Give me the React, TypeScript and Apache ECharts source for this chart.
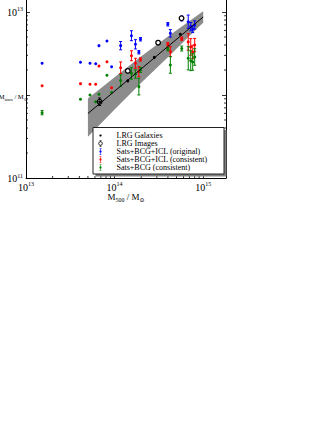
import React, { useEffect, useRef } from "react";
import * as echarts from "echarts";

const FONT = "'Liberation Serif', 'DejaVu Serif', serif";

// ---------- data ----------
const clusterM500 = [1.52e13, 4.12e13, 5.28e13, 6.12e13, 6.66e13, 8.2e13, 9.25e13, 1.17e14, 1.55e14, 1.72e14, 1.88e14, 1.96e14, 3.99e14, 4.26e14, 5.73e14, 6.78e14, 7.24e14, 7.62e14, 8.02e14];
const starsOriginal = [2.41e12, 2.48e12, 2.41e12, 2.38e12, 3.93e12, 4.48e12, 2.19e12, 3.93e12, 5.18e12, 4.08e12, 3.27e12, 4.69e12, 7.11e12, 5.53e12, 8.35e12, 7.64e12, 6.66e12, 6.19e12, 6.97e12];
const errOriginal = [0, 0, 0, 0, 0, 0, 0, 0.05, 0.06, 0.056, 0.02, 0.02, 0.02, 0.045, 0.03, 0.08, 0.05, 0.04, 0.05];
const starsICL = [1.29e12, 1.37e12, 1.35e12, 1.35e12, 2.23e12, 2.52e12, 1.22e12, 2.13e12, 2.97e12, 2.41e12, 1.91e12, 2.68e12, 4.08e12, 3.33e12, 4.77e12, 4.36e12, 3.79e12, 3.3e12, 4.0e12];
const errICL = [0, 0, 0, 0, 0, 0, 0, 0.07, 0.06, 0.06, 0.06, 0.02, 0.02, 0.06, 0.02, 0.1, 0.1, 0.08, 0.08];
const starsBCG = [6.12e11, 8.87e11, 1.0e12, 8.3e11, 1.02e12, 1.73e12, 1.07e12, 1.49e12, 1.82e12, 1.79e12, 1.26e12, 2.0e12, 3.56e12, 2.3e12, 3.63e12, 2.77e12, 2.59e12, 2.5e12, 2.87e12];
const errBCG = [0.025, 0, 0, 0, 0, 0, 0, 0.07, 0.07, 0.05, 0.1, 0.03, 0.02, 0.1, 0.03, 0.14, 0.12, 0.1, 0.1];

const lrgGalaxyM500 = [6.78e13, 1.41e14, 2.81e14, 5.52e14];
const lrgGalaxyStars = [8.3e11, 1.48e12, 2.84e12, 5.38e12];
const lrgImageM500 = [6.78e13, 1.41e14, 3.1e14, 5.7e14];
const lrgImageStars = [8.3e11, 1.95e12, 4.27e12, 8.4e12];
const lrgImageErr = [0.045, 0, 0, 0];

const fitM500 = [5e13, 1e15];
const fitStars = [5.98e11, 8.71e12];
const bandM500 = [5e13, 1e14, 2e14, 4e14, 7e14, 1e15];
const bandUpper = [9.06e11, 1.64e12, 2.92e12, 5.06e12, 7.78e12, 1.02e13];
const bandLower = [3.14e11, 6.7e11, 1.4e12, 2.84e12, 5.14e12, 7.41e12];

const xTickExponents = [13, 14, 15];
const yTickExponents = [11, 13];
const xMinorTicks = [2e13, 3e13, 4e13, 5e13, 6e13, 7e13, 8e13, 9e13, 2e14, 3e14, 4e14, 5e14, 6e14, 7e14, 8e14, 9e14];
const yMinorTicks = [2e11, 3e11, 4e11, 5e11, 6e11, 7e11, 8e11, 9e11, 2e12, 3e12, 4e12, 5e12, 6e12, 7e12, 8e12, 9e12];

const legendNames = ["LRG Galaxies", "LRG Images", "Sats+BCG+ICL (original)", "Sats+BCG+ICL (consistent)", "Sats+BCG (consistent)"];
const yTitle = "{m|M}{s|stars}{m| / M}{s|⊙}";
const xTitle = "{m|M}{s|500}{m| / M}{s|⊙}";

const X_MIN = 1e13, X_MAX = 1.81e15, Y_MIN = 1e11, Y_MAX = 2e13;

// ---------- helpers ----------
const supRich = {
  b: { fontSize: 10, fontFamily: FONT, color: "#000", verticalAlign: "bottom", lineHeight: 11 },
  s: { fontSize: 6, fontFamily: FONT, color: "#000", verticalAlign: "top", lineHeight: 5 },
};
const makeFormatter = (allowed: number[]) => (v: number) => {
  const l = Math.log10(v);
  const e = Math.round(l);
  if (Math.abs(l - e) > 1e-6 || allowed.indexOf(e) < 0) return "";
  return `{b|10}{s|${e}}`;
};

const errRender = (color: string, r: number, open: boolean) => (params: any, api: any) => {
  const x = api.value(0), y = api.value(1), e = api.value(2);
  const p = api.coord([x, y]);
  const children: any[] = [];
  if (e > 0) {
    const lo = api.coord([x, y / Math.pow(10, e)]);
    const hi = api.coord([x, y * Math.pow(10, e)]);
    const st = { stroke: color, lineWidth: 1 };
    children.push({ type: "line", shape: { x1: p[0], y1: lo[1], x2: p[0], y2: hi[1] }, style: st });
    children.push({ type: "line", shape: { x1: p[0] - 1.5, y1: lo[1], x2: p[0] + 1.5, y2: lo[1] }, style: st });
    children.push({ type: "line", shape: { x1: p[0] - 1.5, y1: hi[1], x2: p[0] + 1.5, y2: hi[1] }, style: st });
  }
  children.push({
    type: "circle",
    shape: { cx: p[0], cy: p[1], r },
    style: open ? { fill: "#fff", stroke: color, lineWidth: 1.3 } : { fill: color },
  });
  return { type: "group", children };
};

// icon geometry helpers (polygonal circles, no arcs)
const poly = (cx: number, cy: number, r: number, cw: boolean) => {
  const n = 20;
  const pts: string[] = [];
  for (let k = 0; k < n; k++) {
    const a = (cw ? 1 : -1) * (k / n) * Math.PI * 2 - Math.PI / 2;
    pts.push(`${(cx + r * Math.cos(a)).toFixed(3)},${(cy + r * Math.sin(a)).toFixed(3)}`);
  }
  return "M" + pts.join("L") + "Z ";
};
const CORNERS = "M0,0h0.01v0.01h-0.01z M9.99,9.99h0.01v0.01h-0.01z ";
const ICON_DOT = "path://" + CORNERS + poly(5, 5, 1.6, true);
const ICON_ERR = "path://" + CORNERS + "M4.6,0.5h0.8v9h-0.8z M3.5,0.5h3v0.7h-3z M3.5,8.8h3v0.7h-3z " + poly(5, 5, 1.6, true);
const ICON_RING = "path://" + CORNERS + "M4.6,0.5h0.8v1.6h-0.8z M4.6,7.9h0.8v1.6h-0.8z M3.5,0.5h3v0.7h-3z M3.5,8.8h3v0.7h-3z " + poly(5, 5, 3, true) + poly(5, 5, 2, false);

function buildOption() {
  const tickStyle = { color: "#000", width: 0.8 };
  const minorX = (params: any, api: any) => {
    const cs = params.coordSys;
    const p = api.coord([api.value(0), Y_MIN]);
    const st = { stroke: "#000", lineWidth: 0.8 };
    return {
      type: "group",
      children: [
        { type: "line", shape: { x1: p[0], y1: cs.y + cs.height, x2: p[0], y2: cs.y + cs.height - 2 }, style: st },
        { type: "line", shape: { x1: p[0], y1: cs.y, x2: p[0], y2: cs.y + 2 }, style: st },
      ],
    };
  };
  const minorY = (params: any, api: any) => {
    const cs = params.coordSys;
    const p = api.coord([X_MIN, api.value(1)]);
    const st = { stroke: "#000", lineWidth: 0.8 };
    return {
      type: "group",
      children: [
        { type: "line", shape: { x1: cs.x, y1: p[1], x2: cs.x + 2, y2: p[1] }, style: st },
        { type: "line", shape: { x1: cs.x + cs.width, y1: p[1], x2: cs.x + cs.width - 2, y2: p[1] }, style: st },
      ],
    };
  };

  const yNameRich = {
    m: { fontSize: 6.6, fontFamily: FONT, color: "#000", verticalAlign: "top", lineHeight: 7 },
    s: { fontSize: 4.5, fontFamily: FONT, color: "#000", verticalAlign: "top", lineHeight: 5, padding: [4, 0, 0, 0] },
  };
  const xNameRich = {
    m: { fontSize: 9, fontFamily: FONT, color: "#000", verticalAlign: "top", lineHeight: 10 },
    s: { fontSize: 6, fontFamily: FONT, color: "#000", verticalAlign: "top", lineHeight: 6, padding: [5, 0, 0, 0] },
  };

  return {
    animation: false,
    backgroundColor: "#fff",
    grid: { left: 26, right: 106, top: -13, bottom: 252, containLabel: false, outerBoundsMode: "none" },
    xAxis: [
      {
        type: "log", logBase: 10, min: X_MIN, max: X_MAX, position: "bottom",
        axisLine: { show: true, lineStyle: { color: "#000", width: 1 } },
        axisTick: { show: true, inside: true, length: 4, lineStyle: tickStyle },
        splitLine: { show: false },
        axisLabel: { margin: 3, formatter: makeFormatter(xTickExponents), rich: supRich },
        name: xTitle,
        nameLocation: "middle", nameGap: 14, nameMoveOverlap: false,
        nameTextStyle: { rich: xNameRich },
      },
      {
        type: "log", logBase: 10, min: X_MIN, max: X_MAX, position: "top",
        axisLine: { show: true, lineStyle: { color: "#000", width: 1 } },
        axisTick: { show: true, inside: true, length: 4, lineStyle: tickStyle },
        splitLine: { show: false }, axisLabel: { show: false },
      },
    ],
    yAxis: [
      {
        type: "log", logBase: 10, min: Y_MIN, max: Y_MAX, position: "left",
        axisLine: { show: true, lineStyle: { color: "#000", width: 1 } },
        axisTick: { show: true, inside: true, length: 4, lineStyle: tickStyle },
        splitLine: { show: false },
        axisLabel: { margin: 3, formatter: makeFormatter(yTickExponents), rich: supRich },
      },
      {
        type: "log", logBase: 10, min: Y_MIN, max: Y_MAX, position: "right",
        axisLine: { show: true, lineStyle: { color: "#000", width: 1 } },
        axisTick: { show: true, inside: true, length: 4, lineStyle: tickStyle },
        splitLine: { show: false }, axisLabel: { show: false },
      },
    ],
    legend: {
      orient: "vertical", left: 97, top: 131.5,
      itemWidth: 22, itemHeight: 7, itemGap: 0, padding: 0,
      formatter: (n: string) => `{t|${n}}`,
      textStyle: {
        fontFamily: FONT, fontSize: 8, color: "#000",
        rich: { t: { fontFamily: FONT, fontSize: 8, lineHeight: 7.8, color: "#000" } },
      },
      itemStyle: { borderWidth: 0 },
      data: [
        { name: legendNames[0], icon: ICON_DOT },
        { name: legendNames[1], icon: ICON_RING },
        { name: legendNames[2], icon: ICON_ERR },
        { name: legendNames[3], icon: ICON_ERR },
        { name: legendNames[4], icon: ICON_ERR },
      ],
      selectedMode: false,
    },
    graphic: [
      { type: "rect", z: 3, shape: { x: 95.5, y: 130, width: 131, height: 46.5 }, style: { fill: "#808080" }, silent: true },
      { type: "rect", z: 3, shape: { x: 93, y: 127.5, width: 131, height: 46.5 }, style: { fill: "#fff", stroke: "#222", lineWidth: 1 }, silent: true },
      {
        type: "text", z: 3, x: 27.5, y: 96, silent: true,
        style: { text: yTitle, rich: yNameRich, align: "right", verticalAlign: "middle", fontFamily: FONT },
      },
    ],
    series: [
      {
        type: "custom", name: "band", silent: true, z: 1,
        data: bandM500.map((x, i) => [x, bandUpper[i]]),
        renderItem: (params: any, api: any) => {
          if (params.dataIndex !== 0) return { type: "group", children: [] };
          const up = bandM500.map((x, i) => api.coord([x, bandUpper[i]]));
          const lo = bandM500.map((x, i) => api.coord([x, bandLower[i]])).reverse();
          return { type: "polygon", shape: { points: up.concat(lo) }, style: { fill: "#8c8c8c" } };
        },
      },
      {
        type: "line", name: "fit", silent: true, z: 2, showSymbol: false,
        data: fitM500.map((x, i) => [x, fitStars[i]]),
        lineStyle: { color: "#000", width: 1 },
      },
      {
        type: "custom", name: "xminor", silent: true,
        data: xMinorTicks.map((v) => [v, Y_MIN]), renderItem: minorX,
      },
      {
        type: "custom", name: "yminor", silent: true,
        data: yMinorTicks.map((v) => [X_MIN, v]), renderItem: minorY,
      },
      {
        type: "custom", name: legendNames[2], z: 2, itemStyle: { color: "#0000ff" },
        data: clusterM500.map((x, i) => [x, starsOriginal[i], errOriginal[i]]),
        renderItem: errRender("#0000ff", 1.5, false),
      },
      {
        type: "custom", name: legendNames[3], z: 2, itemStyle: { color: "#ff0000" },
        data: clusterM500.map((x, i) => [x, starsICL[i], errICL[i]]),
        renderItem: errRender("#ff0000", 1.5, false),
      },
      {
        type: "custom", name: legendNames[4], z: 2, itemStyle: { color: "#008000" },
        data: clusterM500.map((x, i) => [x, starsBCG[i], errBCG[i]]),
        renderItem: errRender("#008000", 1.5, false),
      },
      {
        type: "custom", name: legendNames[1], z: 2, itemStyle: { color: "#000" },
        data: lrgImageM500.map((x, i) => [x, lrgImageStars[i], lrgImageErr[i]]),
        renderItem: errRender("#000", 2.3, true),
      },
      {
        type: "custom", name: legendNames[0], z: 2, itemStyle: { color: "#000" },
        data: lrgGalaxyM500.map((x, i) => [x, lrgGalaxyStars[i], 0]),
        renderItem: errRender("#000", 1.5, false),
      },
    ],
  };
}

export default function App() {
  const ref = useRef<HTMLDivElement>(null);
  useEffect(() => {
    const chart = echarts.init(ref.current!, null, { renderer: "svg" });
    chart.setOption(buildOption() as any);
    return () => chart.dispose();
  }, []);
  return (
    <div
      ref={ref}
      style={{ position: "fixed", left: 0, top: 0, width: 332, height: 430, background: "#fff" }}
    />
  );
}
